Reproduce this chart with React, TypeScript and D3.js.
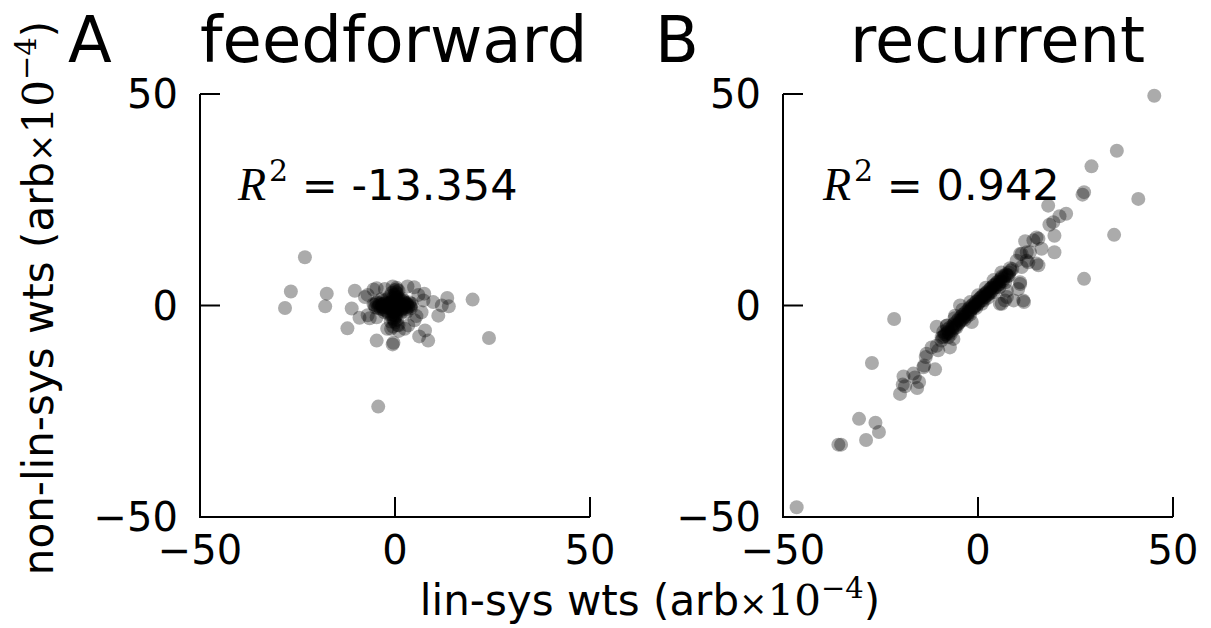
import React from "react";
import * as d3 from "d3";

const ticks = [-50, 0, 50];
const tickLabels = ["\u221250", "0", "50"];
const titles = ["feedforward", "recurrent"];
const letters = ["A", "B"];
const r2Labels = ["-13.354", "0.942"];

// Panel A (feedforward): [lin-sys, non-lin-sys]
const ffOutliers: [number, number][] = [
  [-23.1, 11.4], [-26.7, 3.3], [-28.2, -0.6], [-17.5, 2.8], [-17.9, -0.2], [-10.3, 3.5],
  [-11.1, -0.7], [-7.7, 2.0], [-9.1, -2.9], [-12.2, -5.4], [-4.7, 4.1], [-2.6, 3.9],
  [0.4, 3.8], [4.9, 4.3], [7.5, 2.8], [7.3, 1.2], [9.8, 0.8], [13.4, 1.8], [13.8, -0.2],
  [11.1, -2.4], [12, 0], [6.8, -1.6], [19.9, 1.4], [24.1, -7.7], [-4.7, -8.3], [-0.6, -9.2],
  [-0.4, -8.8], [3.4, -4.7], [0.9, -4.7], [-1, -5.5], [6.2, -7.3], [7.7, -5.9], [8.5, -8.3],
  [-4.3, -23.9], [-4.7, -2.8], [-7, -2.3], [-7, 2.5], [-6.5, -3], [5.5, -2.5], [6, 2.5],
  [2.5, -5.5], [-2, -5.5], [-5.5, 3.8], [3.2, 4.5], [1, -6], [5, -3.5],
];
const ffCore: [number, number][] = [
  [-5.5, 0.3], [-5, -0.5], [-4.6, 0.8], [-4.2, -0.2], [-4, 0.5], [-3.7, -0.8], [-3.4, 0.2],
  [-3.1, 1], [-2.9, -0.4], [-2.6, 0.6], [-2.4, -1.2], [-2.2, 0.1], [-2, 1.5], [-1.8, -0.6],
  [-1.6, 0.4], [-1.5, -2], [-1.3, 2.2], [-1.2, -0.2], [-1, 0.9], [-0.9, -1], [-0.8, 3],
  [-0.7, -3], [-0.6, 0.2], [-0.5, 1.8], [-0.4, -1.6], [-0.3, 0.5], [-0.2, -0.3], [-0.1, 3.6],
  [0, -4], [0, 0.1], [0.1, 1.2], [0.2, -2.4], [0.3, 2.6], [0.3, -0.6], [0.4, 0.4], [0.5, -3.4],
  [0.6, 1], [0.7, -1.2], [0.8, 2], [0.9, -0.2], [1, 0.6], [1.2, -0.8], [1.4, 1.4], [1.5, -1.8],
  [1.7, 0.2], [1.9, -0.5], [2.1, 0.9], [2.3, -0.1], [2.6, 0.5], [2.8, -0.9], [3.1, 0.3],
  [3.4, -0.4], [3.7, 0.7], [4, -0.2], [4.3, 0.4], [-0.5, -5], [0.4, 4.2], [-1.1, -3.8],
  [0.9, 3.5], [-0.3, -2.2], [0.1, 2.1], [-2.7, -1.6], [1.9, 1.6], [-3.5, 1.5], [3, -1.5],
  [0.6, -4.6], [-0.6, 4.5], [-0.2, 0.9], [0.2, -0.8], [-1.5, 0.6], [1.3, 0.1], [-0.4, -0.1],
  [-5.2, 0.1], [-4.8, 0.6], [-4.4, -0.6], [-3.9, 0.1], [-3.3, -0.3], [-2.8, 0.4], [-2.3, -0.5],
  [-1.9, 0.7], [-1.4, -0.4], [-1.1, 0.2], [-0.8, -0.7], [-0.5, 0.6], [-0.2, 2.5], [0.2, -1.8],
  [0.5, 2.9], [-0.3, -3.2], [0.1, -2.8], [-0.4, 1.4], [0.6, -0.1], [1.1, 1.1], [1.6, -0.9],
  [2, 0.3], [2.4, -0.6], [2.9, 0.6], [3.3, -0.1], [3.8, 0.1], [4.1, -0.6], [-0.1, -1.1],
  [0.4, 1.7], [-0.7, -2.2], [0.2, 3.2], [-0.2, -3.6], [-3, -0.9], [2.2, 1.2], [-2, -1.4],
  [1.4, -1.3],
];

// Panel B (recurrent)
const recOuter: [number, number][] = [
  [45.2, 49.6], [35.6, 36.6], [29.1, 32.9], [27.2, 26.8], [26.8, 26.2], [41.1, 25.2],
  [34.9, 16.7], [18, 23.6], [22.6, 21.7], [20.9, 21.1], [19.3, 19.7], [18.3, 19.1],
  [19.6, 16.5], [15, 16.1], [14.2, 15.4], [16.3, 13.4], [19.6, 12.6], [10.8, 12.2],
  [12.5, 12.6], [15.5, 15.8], [12.1, 15.2], [27.2, 6.3], [9.9, 10.6], [12.5, 10.6],
  [13.3, 12.6], [11.2, 12.2], [15.5, 9.5], [10.8, 5.1], [11.6, 1.2], [9.1, 1.2], [11.2, 9.1],
  [12.9, 10.2], [15, 9.9], [7.4, 2], [6.1, 0.4], [10.8, 5.5], [10.3, 3.9], [11.8, 0.8],
  [7.4, 3.5], [6.9, 1.2], [5.6, 0.4],
  [-46.5, -47.7], [-35.8, -32.9], [-35.1, -32.9], [-30.5, -26.8], [-28.7, -31.8],
  [-26.3, -27.7], [-25.4, -29.9], [-27.2, -13.6], [-21.5, -3.2], [-20, -20.9], [-19.3, -18.7],
  [-18.7, -19.1], [-19.1, -16.8], [-16.6, -16.1], [-16.2, -17], [-15.6, -19.5], [-15.1, -18.1],
  [-14, -14.6], [-13.8, -14.2], [-11, -15.1], [-13.2, -11.4], [-13.4, -12.2], [-11.9, -9.9],
  [-10.2, -10.6], [-10.6, -9.5], [-10.6, -5], [-9.3, -7.5], [-7.2, -9.9], [-7.6, -7.5],
  [-6.3, -7.9], [-4.6, 0], [-1.6, -3.9], [-5.9, -2.4], [-8, -4.7],
];
const recCore: [number, number][] = [
  [-9, -7.5], [-8.5, -6.8], [-8, -6.5], [-7.6, -6.2], [-7.2, -5.2], [-6.8, -5.5], [-6.4, -4.6],
  [-6, -4.2], [-5.7, -4.8], [-5.3, -3.6], [-5, -3.2], [-4.6, -3.5], [-4.3, -2.6], [-4, -2.2],
  [-3.7, -2.8], [-3.4, -1.8], [-3, -1.4], [-2.7, -1.9], [-2.4, -0.8], [-2.1, -0.4], [-1.8, -1],
  [-1.5, 0], [-1.2, 0.3], [-0.9, -0.2], [-0.6, 0.8], [-0.3, 1], [0, 0.5], [0.3, 1.5], [0.6, 1.8],
  [0.9, 1.2], [1.2, 2.2], [1.5, 2.6], [1.8, 2], [2.1, 3], [2.4, 3.3], [2.7, 2.7], [3, 3.8],
  [3.3, 4.1], [3.6, 3.5], [3.9, 4.6], [4.2, 4.9], [4.5, 4.3], [4.8, 5.4], [5.1, 5.7], [5.4, 5],
  [5.7, 6.1], [6, 6.5], [6.4, 5.8], [6.8, 7], [7.2, 7.4], [7.6, 6.9], [8, 7.8], [8.4, 8.3],
  [-7, -6.8], [-5.5, -5.2], [-3.5, -3.4], [-2, -2.1], [-0.5, -0.6], [1, 0.4], [2.5, 1.8],
  [4, 3.2], [5.5, 4.3], [7, 5.5], [-8, -4.8], [-6, -3], [-4, -1], [-2, 0.8], [0, 2.4],
  [2, 4.2], [4, 6], [6, 7.8], [-1, -0.5], [1.5, 1.2], [3.2, 2.9], [-2.8, -2.6], [-4.8, -4.1],
  [-8.7, -7.2], [-8.2, -6.9], [-7.8, -5.6], [-7.4, -6.6], [-6.6, -5.9], [-6.2, -4.9],
  [-5.9, -5.3], [-5.1, -4.4], [-4.4, -3.7], [-3.9, -3.1], [-3.2, -2.3], [-2.5, -1.5],
  [-2.2, -1.7], [-1.6, -0.7], [-1.1, -0.3], [-0.7, 0.1], [-0.1, 0.2], [0.4, 0.9], [0.8, 2],
  [1.4, 1.8], [1.9, 2.7], [2.3, 2.4], [2.9, 3.1], [3.5, 4.2], [4.1, 4.1], [4.6, 5], [5.2, 4.9],
  [5.8, 5.6], [6.2, 6.9], [6.6, 6.4], [7.4, 7.2], [7.9, 7.1], [8.2, 8.8], [-9.4, -8.3],
  [-8.9, -6.2], [8.8, 8.6],
];

const panels = [
  { left: 200, right: 590, pts: [...ffOutliers, ...ffCore], r2x: 238, titleX: 200, letterX: 68 },
  { left: 783, right: 1173, pts: [...recOuter, ...recCore], r2x: 823, titleX: 850, letterX: 655 },
];

const TOP = 94;
const BOTTOM = 517;
const SANS = "DejaVu Sans, sans-serif";
const SERIF = "DejaVu Serif, serif";

function Panel({ p, i }: { p: (typeof panels)[number]; i: number }) {
  const x = d3.scaleLinear().domain([-50, 50]).range([p.left, p.right]);
  const y = d3.scaleLinear().domain([-50, 50]).range([BOTTOM, TOP]);
  return (
    <g>
      <text x={p.letterX} y={62} fontFamily={SANS} fontSize={64}>{letters[i]}</text>
      <text x={p.titleX} y={62} fontFamily={SANS} fontSize={64}>{titles[i]}</text>
      {p.pts.map((d, k) => (
        <circle key={k} cx={x(d[0])} cy={y(d[1])} r={7} fill="#000" fillOpacity={0.33} />
      ))}
      <path d={`M${p.left},${TOP}V${BOTTOM}H${p.right}`} fill="none" stroke="#000" strokeWidth={2} />
      {ticks.map((t, k) => (
        <g key={k}>
          <line x1={p.left} x2={p.left + 20} y1={y(t)} y2={y(t)} stroke="#000" strokeWidth={2} />
          <line x1={x(t)} x2={x(t)} y1={BOTTOM} y2={BOTTOM - 20} stroke="#000" strokeWidth={2} />
          <text x={p.left - 22} y={y(t)} dy="0.36em" textAnchor="end" fontFamily={SANS} fontSize={40}>
            {tickLabels[k]}
          </text>
          <text x={x(t)} y={BOTTOM + 47} textAnchor="middle" fontFamily={SANS} fontSize={40}>
            {tickLabels[k]}
          </text>
        </g>
      ))}
      <text x={p.r2x} y={200} fontSize={43} fontFamily={SANS}>
        <tspan fontFamily="Liberation Serif, serif" fontStyle="italic" fontSize={46}>R</tspan>
        <tspan fontFamily={SERIF} fontSize={30} dy={-19} dx={3}>2</tspan>
        <tspan dy={19}>{" = " + r2Labels[i]}</tspan>
      </text>
    </g>
  );
}

function AxisLabel({ prefix }: { prefix: string }) {
  return (
    <>
      <tspan>{prefix + " (arb"}</tspan>
      <tspan fontSize={34}>{"\u00d7"}</tspan>
      <tspan fontFamily={SERIF}>10</tspan>
      <tspan fontFamily={SERIF} fontSize={29} dy={-17}>{"\u22124"}</tspan>
      <tspan dy={17}>)</tspan>
    </>
  );
}

export default function App() {
  return (
    <svg width={1211} height={628} style={{ position: "absolute", left: 0, top: 0, background: "#fff" }}>
      <rect width={1211} height={628} fill="#fff" />
      {panels.map((p, i) => (
        <Panel key={i} p={p} i={i} />
      ))}
      <text x={650} y={615} textAnchor="middle" fontFamily={SANS} fontSize={42}>
        <AxisLabel prefix="lin-sys wts" />
      </text>
      <text transform="translate(53,298) rotate(-90)" textAnchor="middle" fontFamily={SANS} fontSize={42}>
        <AxisLabel prefix="non-lin-sys wts" />
      </text>
    </svg>
  );
}
